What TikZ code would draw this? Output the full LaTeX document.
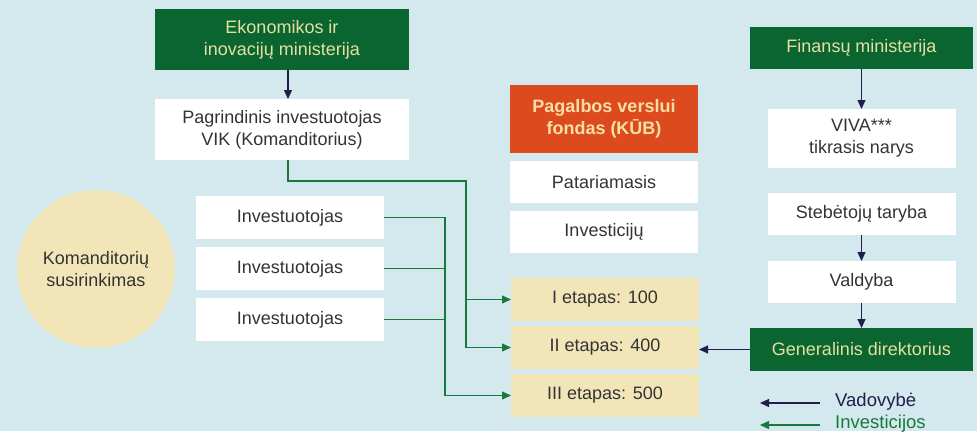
\documentclass[tikz,border=0pt]{standalone}
\usepackage{fontspec}
\setmainfont{Liberation Sans}
\usetikzlibrary{shapes,arrows.meta}
\usetikzlibrary{positioning}
\definecolor{bg}{HTML}{D4E9EE}
\definecolor{darkgreen}{HTML}{0B6531}
\definecolor{pale}{HTML}{E6DFA2}
\definecolor{rust}{HTML}{DD4A1E}
\definecolor{cream}{HTML}{F7DFA6}
\definecolor{sand}{HTML}{F2E6B9}
\definecolor{navy}{HTML}{1F1E4E}
\definecolor{leaf}{HTML}{177A3C}
\definecolor{ink}{HTML}{333333}
\tikzstyle{box} = [rectangle, minimum width=188pt, minimum height=43pt,
    inner sep=0pt, outer sep=0pt, align=center, text=ink,
    font=\fontsize{18}{22}\selectfont]
\tikzstyle{ministry} = [box, fill=darkgreen, text=pale]
\tikzstyle{plain} = [box, fill=white]
\tikzstyle{stage} = [box, fill=sand]
\tikzstyle{fund} = [box, fill=rust, text=cream,
    font=\fontsize{18}{22}\selectfont\bfseries]
\tikzstyle{meeting} = [circle, fill=sand, minimum size=158pt, inner sep=0pt,
    align=center, text=ink, font=\fontsize{18}{22}\selectfont]
\tikzstyle{legend} = [inner sep=0pt, anchor=west, font=\fontsize{18.5}{22}\selectfont]
\tikzstyle{lead} = [draw, navy, line width=1.2pt, -{Triangle[length=9pt,width=8pt]}]
\tikzstyle{invest} = [draw, leaf, line width=1.2pt, -{Triangle[length=9pt,width=8pt]}]
\begin{document}
\begin{tikzpicture}[x=1pt, y=-1pt]
  \fill[bg] (0,0) rectangle (977,431);
  \useasboundingbox (0,0) rectangle (977,431);
  % Place nodes
  \node [ministry, minimum width=254pt, minimum height=61pt] (eim) at (282,39.5)
        {Ekonomikos ir\\inovacijų ministerija};
  \node [plain, minimum width=254pt, minimum height=61pt, below=29pt of eim] (vik)
        {Pagrindinis investuotojas\\VIK (Komanditorius)};

  \node [meeting] (meeting) at (96,269) {Komanditorių\\susirinkimas};
  \node [plain] (inv1) at (290,217.5) {Investuotojas};
  \node [plain, below=8pt of inv1] (inv2) {Investuotojas};
  \node [plain, below=8pt of inv2] (inv3) {Investuotojas};

  \node [fund, minimum height=68pt] (fund) at (604,119) {Pagalbos verslui\\fondas (KŪB)};
  \node [plain, minimum height=42pt, below=8pt of fund] (adv) {Patariamasis};
  \node [plain, minimum height=42pt, below=8pt of adv] (invc) {Investicijų};
  \node [stage] (st1) at (605,299.5) {I etapas: 100};
  \node [stage, below=5pt of st1] (st2) {II etapas: 400};
  \node [stage, below=5pt of st2] (st3) {III etapas: 500};

  \node [ministry, minimum width=223pt, minimum height=42pt] (fin) at (861.5,48)
        {Finansų ministerija};
  \node [plain, minimum height=59pt, below=40pt of fin] (viva) {VIVA***\\tikrasis narys};
  \node [plain, minimum height=42pt, below=25pt of viva] (board) {Stebėtojų taryba};
  \node [plain, minimum height=42pt, below=26pt of board] (mgmt) {Valdyba};
  \node [ministry, minimum width=223pt, below=25pt of mgmt] (ceo) {Generalinis direktorius};

  \node [legend, text=navy] (legvad) at (835,402) {Vadovybė};
  \node [legend, text=leaf] (leginv) at (835,424) {Investicijos};
  \coordinate (legvadend) at (760,403);
  \coordinate (leginvend) at (760,425);

  % paths
  \path [lead] ([xshift=6pt]eim.south) -- ([xshift=6pt]vik.north);
  \path [lead] (fin.south) -- (viva.north);
  \path [lead] (board) -- (mgmt);
  \path [lead] (mgmt) -- (ceo);
  \path [lead] (ceo.west) -- (ceo.west -| st2.east);

  \coordinate (vikbus) at (466,181);
  \path [invest] ([xshift=6pt]vik.south) |- (vikbus) |- (st2.west);
  \path [invest] (vikbus) |- (st1.west);
  \path [invest] (inv1.east) -- ++(61,0) |- (st3.west);
  \path [invest, -] (inv2.east) -- ++(61,0);
  \path [invest, -] (inv3.east) -- ++(61,0);

  \path [lead] ([xshift=-15pt]legvad.west |- legvadend) -- (legvadend);
  \path [invest] ([xshift=-15pt]leginv.west |- leginvend) -- (leginvend);
\end{tikzpicture}
\end{document}
